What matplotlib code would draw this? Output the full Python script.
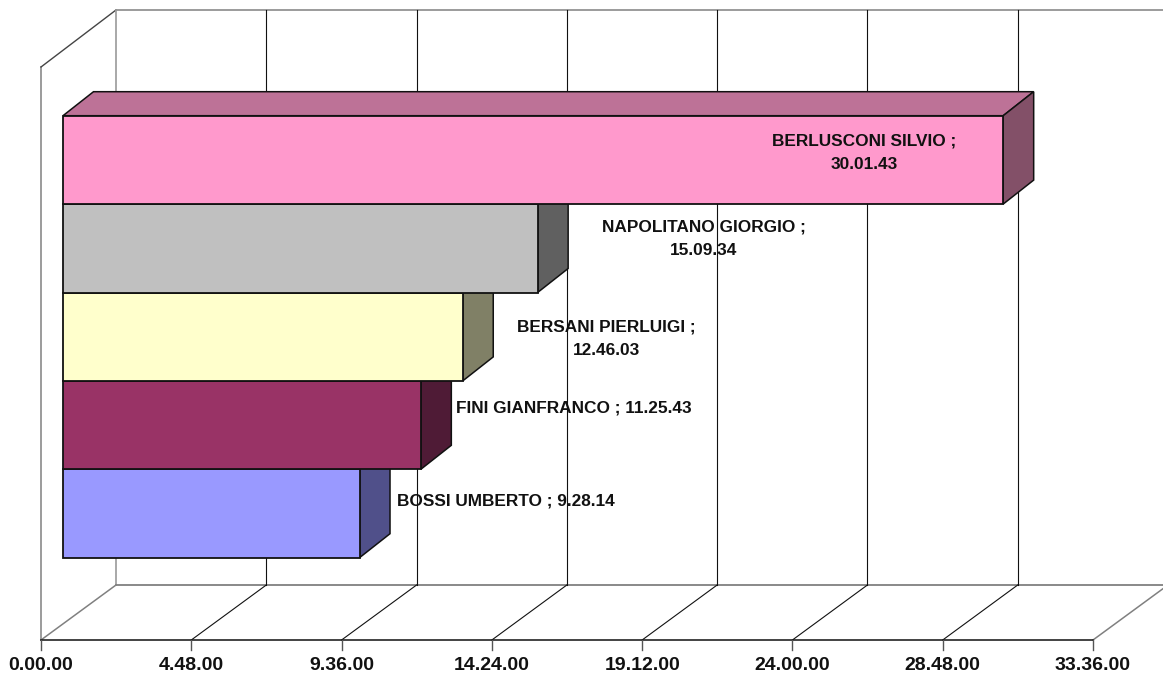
import matplotlib
matplotlib.use("Agg")
import matplotlib.pyplot as plt

names = ["BOSSI UMBERTO", "FINI GIANFRANCO", "BERSANI PIERLUIGI", "NAPOLITANO GIORGIO", "BERLUSCONI SILVIO"]
durations = ["9.28.14", "11.25.43", "12.46.03", "15.09.34", "30.01.43"]
tick_labels = ["0.00.00", "4.48.00", "9.36.00", "14.24.00", "19.12.00", "24.00.00", "28.48.00", "33.36.00"]
front_colors = ["#9999ff", "#993366", "#ffffcc", "#c0c0c0", "#ff99cc"]
side_colors = ["#50508a", "#4f1b36", "#808066", "#606060", "#835068"]
top_colors = ["#7a7ac8", "#7a2a52", "#cccca3", "#9a9a9a", "#bd7297"]

def hours(s):
    h, m, sec = s.split(".")
    return int(h) + int(m) / 60 + int(sec) / 3600

values = [hours(d) for d in durations]
ticks = [hours(t) for t in tick_labels]

W, H = 1163, 681
fig = plt.figure(figsize=(W / 100, H / 100), dpi=100)
ax = fig.add_axes([0, 0, 1, 1])
ax.axis("off")

SX = 1052 / 33.6
SY = 88.4
Y0 = 513.5
X0 = 41
ax.set_xlim(-X0 / SX, (W - X0) / SX)
ax.set_ylim((Y0 - H) / SY, Y0 / SY)

def dx(px):
    return px / SX

def yc(py):
    return (Y0 - py) / SY

FLOOR, BACK_FLOOR, BACK_TOP, LEFT_TOP = yc(640), yc(585), yc(10), yc(67)
DX, DY = dx(75), BACK_FLOOR - FLOOR
GREY, DARK = "#808080", "#111111"

# back wall and floor
xmax = ticks[-1]
ax.plot([0, 0], [FLOOR, LEFT_TOP], color=GREY, lw=1.1, zorder=1)
ax.plot([0, DX], [LEFT_TOP, BACK_TOP], color="#444444", lw=1.0, zorder=1)
ax.plot([DX, xmax + DX], [BACK_TOP, BACK_TOP], color=GREY, lw=1.1, zorder=1)
ax.plot([0, DX], [FLOOR, BACK_FLOOR], color=GREY, lw=1.1, zorder=1)
ax.plot([DX, DX], [BACK_FLOOR, BACK_TOP], color="#999999", lw=1.2, zorder=1)
ax.plot([DX, xmax + DX], [BACK_FLOOR, BACK_FLOOR], color=GREY, lw=1.3, zorder=1)
ax.plot([xmax, xmax + DX], [FLOOR, BACK_FLOOR], color=GREY, lw=1.1, zorder=1)
ax.plot([0, xmax], [FLOOR, FLOOR], color=DARK, lw=1.1, zorder=2)
for i, t in enumerate(ticks):
    if 0 < i < len(ticks) - 1:
        ax.plot([t + DX, t + DX], [BACK_FLOOR, BACK_TOP], color=DARK, lw=0.8, zorder=1)
        ax.plot([t, t + DX], [FLOOR, BACK_FLOOR], color=DARK, lw=0.8, zorder=1)
    ax.plot([t, t], [FLOOR, FLOOR - 10 / SY], color="#555555", lw=1.0, zorder=2)
    ax.text(t, yc(666), tick_labels[i], ha="center", va="center",
            family="Liberation Sans", weight="bold", fontsize=14, color="#111111")

# 3-D bars
BASE = dx(22)
BDX, BDY = dx(30.5), 24 / SY
for c, v in enumerate(values):
    z = 5 + c * 3
    x0, x1 = BASE, BASE + v
    lo, hi = c - 0.5, c + 0.5
    ax.fill([x0, x0 + BDX, x1 + BDX, x1], [hi, hi + BDY, hi + BDY, hi],
            facecolor=top_colors[c], edgecolor=DARK, lw=1.1, zorder=z, joinstyle="miter")
    ax.fill([x1, x1 + BDX, x1 + BDX, x1], [lo, lo + BDY, hi + BDY, hi],
            facecolor=side_colors[c], edgecolor=DARK, lw=1.1, zorder=z, joinstyle="miter")
    ax.barh(c, v, height=1.0, left=BASE, color=front_colors[c], edgecolor=DARK, lw=1.3, zorder=z + 1)

# data labels
label_px = [(506, 501), (574, 408), (606.5, 338.5), (704, 238.5), (864, 152.5)]
wrapped = [False, False, True, True, True]
for c, (name, dur) in enumerate(zip(names, durations)):
    px, py = label_px[c]
    sep = " ;\n" if wrapped[c] else " ; "
    ax.text(dx(px - X0), yc(py), name + sep + dur, ha="center", va="center", linespacing=1.72,
            family="Liberation Sans", weight="bold", fontsize=12.4, color="#111111", zorder=40)

fig.savefig("out.png", dpi=100, facecolor="white")
